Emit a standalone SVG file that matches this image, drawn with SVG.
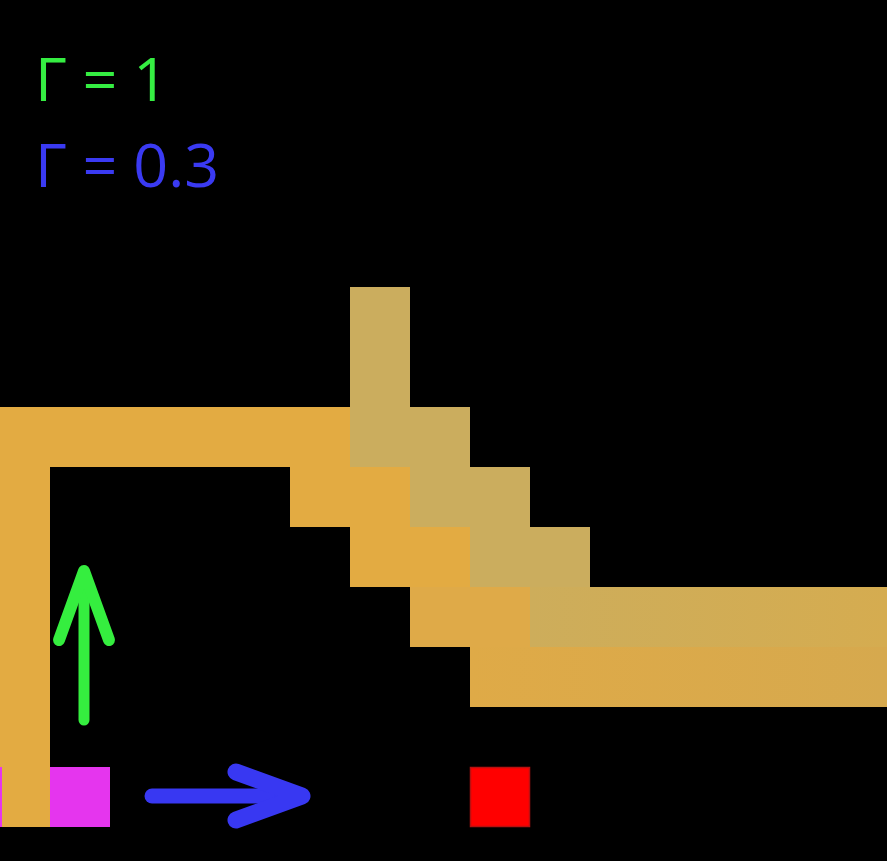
<svg xmlns="http://www.w3.org/2000/svg" width="887" height="861" viewBox="0 0 887 861">
  <defs>
    <style>
      .or { fill: #E3AB42; }
      .tan { fill: #CBAD5E; }
      .lbl { font-family: "Open Sans", "Noto Sans", sans-serif; font-size: 61px; }
    </style>
    <linearGradient id="bandOr" x1="0" y1="0" x2="1" y2="0">
      <stop offset="0" stop-color="#DFAA47"/>
      <stop offset="1" stop-color="#D6A94E"/>
    </linearGradient>
    <linearGradient id="bandTan" x1="0" y1="0" x2="1" y2="0">
      <stop offset="0" stop-color="#CDAD5B"/>
      <stop offset="1" stop-color="#D5AC50"/>
    </linearGradient>
  </defs>
  <rect x="0" y="0" width="887" height="861" fill="#000"/>

  <g id="labels">
    <text class="lbl" x="35" y="101" fill="#35EE42">Γ = 1</text>
    <text class="lbl" x="35" y="187" fill="#3A3AF2">Γ = 0.3</text>
  </g>

  <g id="path-orange">
    <rect class="or" x="0" y="407" width="50" height="420"/>
    <rect class="or" x="0" y="407" width="350" height="60"/>
    <rect class="or" x="290" y="467" width="120" height="60"/>
    <rect class="or" x="350" y="527" width="120" height="60"/>
    <rect x="410" y="587" width="120" height="60" fill="#DFAA48"/>
    <rect x="470" y="647" width="417" height="60" fill="url(#bandOr)"/>
  </g>

  <g id="path-tan">
    <rect class="tan" x="350" y="287" width="60" height="180"/>
    <rect class="tan" x="410" y="407" width="60" height="60"/>
    <rect class="tan" x="410" y="467" width="120" height="60"/>
    <rect class="tan" x="470" y="527" width="120" height="60"/>
    <rect x="530" y="587" width="357" height="60" fill="url(#bandTan)"/>
  </g>

  <g id="agent">
    <rect x="0" y="767" width="2" height="60" fill="#E535EE"/>
    <rect x="50" y="767" width="60" height="60" fill="#E535EE"/>
  </g>

  <g id="goal">
    <rect x="470.5" y="767.5" width="59" height="59" fill="#FF0000" stroke="#B81010" stroke-width="1.5"/>
  </g>

  <g id="arrows" fill="none" stroke-linecap="round" stroke-linejoin="round">
    <g stroke="#35EE3F" stroke-width="11">
      <line x1="84" y1="720" x2="84" y2="578"/>
      <polyline points="59,640 84,571 109,640" stroke-width="12"/>
    </g>
    <g stroke="#3838F2" stroke-width="15">
      <line x1="152" y1="796" x2="300" y2="796"/>
      <polyline points="236,772 302,796 236,820" stroke-width="17"/>
    </g>
  </g>
</svg>
